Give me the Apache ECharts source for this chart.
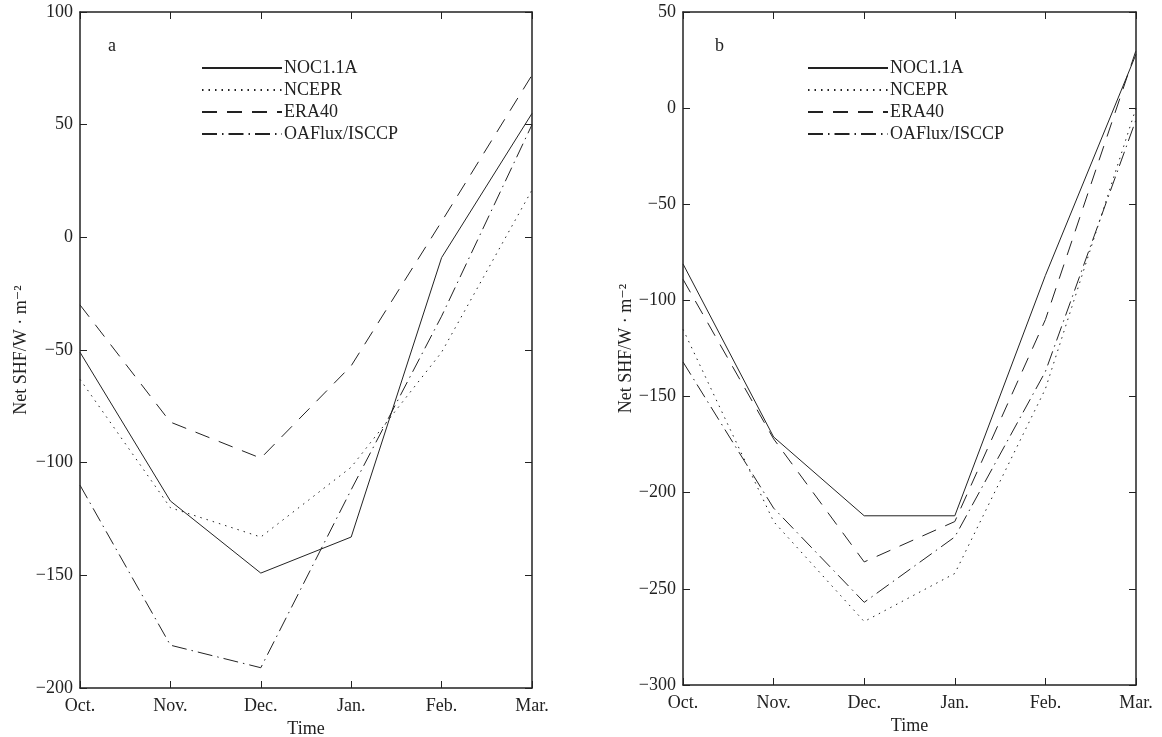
<!DOCTYPE html>
<html>
<head>
<meta charset="utf-8">
<script src="https://cdn.jsdelivr.net/npm/echarts@6/dist/echarts.min.js"></script>
<style>
  html, body { margin: 0; padding: 0; background: #fff; }
  #chart { width: 1162px; height: 737px; }
</style>
</head>
<body>
<div id="chart"></div>
<script>
// months on the x axis
var months = ['Oct.', 'Nov.', 'Dec.', 'Jan.', 'Feb.', 'Mar.']
var names = ['NOC1.1A', 'NCEPR', 'ERA40', 'OAFlux/ISCCP']

// panel a
var nocA = [-51, -117, -149, -133, -9, 55]
var ncepA = [-63, -120, -133, -102, -51, 21]
var eraA = [-30, -82, -98, -57, 7, 72]
var oafA = [-110, -181, -191, -112, -35, 50]

// panel b
var nocB = [-81, -171, -212, -212, -87, 28]
var ncepB = [-115, -215, -267, -242, -146, 0]
var eraB = [-89, -172, -236, -215, -110, 30]
var oafB = [-132, -208, -257, -223, -137, -6]

var font = "'Liberation Serif', 'DejaVu Serif', serif"
var ink = '#222'
var dashes = ['solid', [1.5, 5], [15, 10], [15, 5, 1.5, 5]]

var myChart = echarts.init(document.getElementById('chart'))

function xAxes (gi) {
  return [
    {
      type: 'category',
      gridIndex: gi,
      data: months,
      boundaryGap: false,
      name: 'Time',
      nameLocation: 'middle',
      nameGap: 30,
      nameTextStyle: { color: ink, fontSize: 18, fontFamily: font },
      axisLine: { onZero: false, lineStyle: { color: ink, width: 1.5 } },
      axisTick: { inside: true, length: 7, lineStyle: { color: ink } },
      axisLabel: { color: ink, fontSize: 18, fontFamily: font, margin: 9 },
      splitLine: { show: false }
    },
    {
      type: 'category',
      gridIndex: gi,
      position: 'top',
      data: months,
      boundaryGap: false,
      axisLine: { onZero: false, lineStyle: { color: ink, width: 1.5 } },
      axisTick: { inside: true, length: 7, lineStyle: { color: ink } },
      axisLabel: { show: false },
      splitLine: { show: false }
    }
  ]
}

function yAxes (gi, min, max, gap) {
  return [
    {
      type: 'value',
      gridIndex: gi,
      min: min,
      max: max,
      interval: 50,
      name: 'Net SHF/W · m⁻²',
      nameLocation: 'middle',
      nameGap: gap,
      nameTextStyle: { color: ink, fontSize: 18, fontFamily: font },
      axisLine: { show: true, onZero: false, lineStyle: { color: ink, width: 1.5 } },
      axisTick: { show: true, inside: true, length: 7, lineStyle: { color: ink } },
      axisLabel: {
        color: ink,
        fontSize: 18,
        fontFamily: font,
        margin: 7,
        formatter: function (v) { return String(v).replace('-', '−') }
      },
      splitLine: { show: false }
    },
    {
      type: 'value',
      gridIndex: gi,
      position: 'right',
      min: min,
      max: max,
      interval: 50,
      axisLine: { show: true, onZero: false, lineStyle: { color: ink, width: 1.5 } },
      axisTick: { show: true, inside: true, length: 7, lineStyle: { color: ink } },
      axisLabel: { show: false },
      splitLine: { show: false }
    }
  ]
}

function lines (datas, xi, yi) {
  return datas.map(function (d, i) {
    return {
      name: names[i],
      type: 'line',
      xAxisIndex: xi,
      yAxisIndex: yi,
      data: d,
      symbol: 'none',
      silent: true,
      lineStyle: { color: ink, width: 1, type: dashes[i] },
      itemStyle: { color: ink }
    }
  })
}

function legend (left) {
  return {
    left: left,
    top: 53,
    orient: 'vertical',
    data: names,
    selectedMode: false,
    itemWidth: 80,
    itemHeight: 14,
    itemGap: 2,
    itemStyle: { opacity: 0 },
    textStyle: { color: ink, fontSize: 18, fontFamily: font, lineHeight: 20, padding: [0, 0, 0, -3] }
  }
}

myChart.setOption({
  animation: false,
  grid: [
    { left: 80, top: 12, width: 452, height: 676, outerBoundsMode: 'none', containLabel: false },
    { left: 683, top: 12, width: 453, height: 673, outerBoundsMode: 'none', containLabel: false }
  ],
  xAxis: xAxes(0).concat(xAxes(1)),
  yAxis: yAxes(0, -200, 100, 50).concat(yAxes(1, -300, 50, 46)),
  legend: [legend(196), legend(802)],
  graphic: [
    { type: 'text', left: 108, top: 37, style: { text: 'a', fill: ink, font: '18px ' + font } },
    { type: 'text', left: 715, top: 37, style: { text: 'b', fill: ink, font: '18px ' + font } }
  ],
  series: lines([nocA, ncepA, eraA, oafA], 0, 0).concat(lines([nocB, ncepB, eraB, oafB], 2, 2))
})
</script>
</body>
</html>
